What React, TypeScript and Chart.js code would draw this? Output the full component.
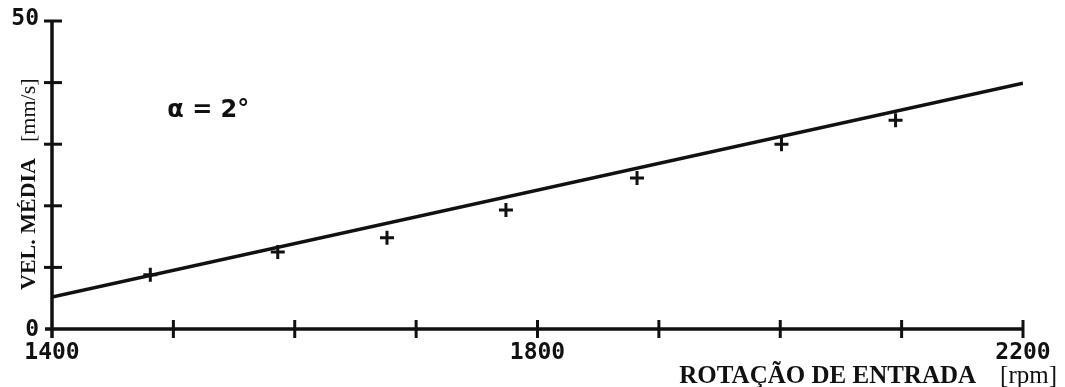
import React, { useEffect, useRef } from "react";
import { Chart, registerables } from "chart.js";

Chart.register(...registerables);

// Fitted line (rpm -> mm/s)
const fitRpm = [1400, 2200];
const fitVel = [5.2, 39.9];

// Measured points
const measRpm = [1481, 1586, 1676, 1774, 1882, 2001, 2095];
const measVel = [8.8, 12.5, 14.8, 19.3, 24.5, 30.0, 33.9];

const xMin = 1400;
const xMax = 2200;
const xStep = 100;
const yMin = 0;
const yMax = 50;
const yStep = 10;
const xTickLabels = [1400, 1800, 2200];
const yTickLabels = [0, 50];

const xTitleBold = "ROTAÇÃO DE ENTRADA";
const xTitleUnit = "[rpm]";
const yTitleBold = "VEL. MÉDIA";
const yTitleUnit = "[mm/s]";
const noteText = "α = 2°";
const noteRpm = 1495;
const noteVel = 35.5;

const INK = "#111111";

const axesPlugin = {
  id: "paperAxes",
  afterDatasetsDraw(chart: any) {
    const { ctx } = chart;
    const xs = chart.scales.x;
    const ys = chart.scales.y;
    const x0 = xs.getPixelForValue(xMin);
    const x1 = xs.getPixelForValue(xMax);
    const y0 = ys.getPixelForValue(yMin);
    const y1 = ys.getPixelForValue(yMax);
    ctx.save();
    ctx.strokeStyle = INK;
    ctx.fillStyle = INK;
    ctx.lineCap = "butt";
    // axes
    ctx.lineWidth = 3.5;
    ctx.beginPath();
    ctx.moveTo(x0, y1);
    ctx.lineTo(x0, y0 + 9);
    ctx.moveTo(x0 - 7, y0);
    ctx.lineTo(x1, y0);
    ctx.stroke();
    // y ticks
    ctx.lineWidth = 3;
    for (let v = yMin + yStep; v <= yMax; v += yStep) {
      const py = ys.getPixelForValue(v);
      ctx.beginPath();
      ctx.moveTo(x0 - 8, py);
      ctx.lineTo(x0 + 10, py);
      ctx.stroke();
    }
    // x ticks
    for (let v = xMin + xStep; v <= xMax; v += xStep) {
      const px = xs.getPixelForValue(v);
      ctx.beginPath();
      ctx.moveTo(px, y0 - 9);
      ctx.lineTo(px, y0 + 9);
      ctx.stroke();
    }
    // tick labels
    ctx.font = "bold 23px 'DejaVu Sans Mono'";
    ctx.textBaseline = "middle";
    ctx.textAlign = "right";
    yTickLabels.forEach((v) => {
      ctx.fillText(String(v), x0 - 13, ys.getPixelForValue(v) + (v === yMin ? 1 : -2));
    });
    ctx.textAlign = "center";
    ctx.textBaseline = "top";
    xTickLabels.forEach((v) => {
      ctx.fillText(String(v), xs.getPixelForValue(v), y0 + 13);
    });
    // note
    ctx.font = "bold 24px 'DejaVu Sans'";
    ctx.textAlign = "left";
    ctx.textBaseline = "middle";
    ctx.fillText(noteText, xs.getPixelForValue(noteRpm), ys.getPixelForValue(noteVel));
    // x title
    ctx.textBaseline = "alphabetic";
    ctx.textAlign = "left";
    ctx.font = "25px 'Liberation Serif'";
    const unitW = ctx.measureText(xTitleUnit).width;
    const rightEdge = chart.width - 8;
    const base = chart.height - 4;
    ctx.fillText(xTitleUnit, rightEdge - unitW, base);
    ctx.font = "bold 25px 'Liberation Serif'";
    const boldW = ctx.measureText(xTitleBold).width;
    ctx.fillText(xTitleBold, rightEdge - unitW - 24 - boldW, base);
    // y title
    ctx.save();
    ctx.translate(35, 290);
    ctx.rotate(-Math.PI / 2);
    ctx.font = "bold 22px 'Liberation Serif'";
    ctx.fillText(yTitleBold, 0, 0);
    const yb = ctx.measureText(yTitleBold).width;
    ctx.font = "22px 'Liberation Serif'";
    ctx.fillText(yTitleUnit, yb + 16, 0);
    ctx.restore();
    ctx.restore();
  },
};

export default function App() {
  const ref = useRef<HTMLCanvasElement | null>(null);
  useEffect(() => {
    if (!ref.current) return;
    const chart = new Chart(ref.current, {
      type: "scatter",
      data: {
        datasets: [
          {
            label: "fit",
            data: fitRpm.map((x, i) => ({ x, y: fitVel[i] })),
            showLine: true,
            borderColor: INK,
            borderWidth: 3.5,
            pointRadius: 0,
            fill: false,
          },
          {
            label: "measured",
            data: measRpm.map((x, i) => ({ x, y: measVel[i] })),
            showLine: false,
            pointStyle: "cross",
            pointRadius: 7,
            borderColor: INK,
            borderWidth: 3,
            backgroundColor: INK,
          },
        ],
      },
      plugins: [axesPlugin],
      options: {
        responsive: false,
        animation: false,
        layout: { padding: { left: 52, right: 42, top: 21, bottom: 58 } },
        plugins: { legend: { display: false }, tooltip: { enabled: false } },
        scales: {
          x: { type: "linear", min: xMin, max: xMax, display: false },
          y: { type: "linear", min: yMin, max: yMax, display: false },
        },
      },
    });
    return () => chart.destroy();
  }, []);
  return (
    <div style={{ position: "absolute", left: 0, top: 0, width: 1065, height: 387, background: "#fff" }}>
      <canvas ref={ref} width={1065} height={387} />
    </div>
  );
}
